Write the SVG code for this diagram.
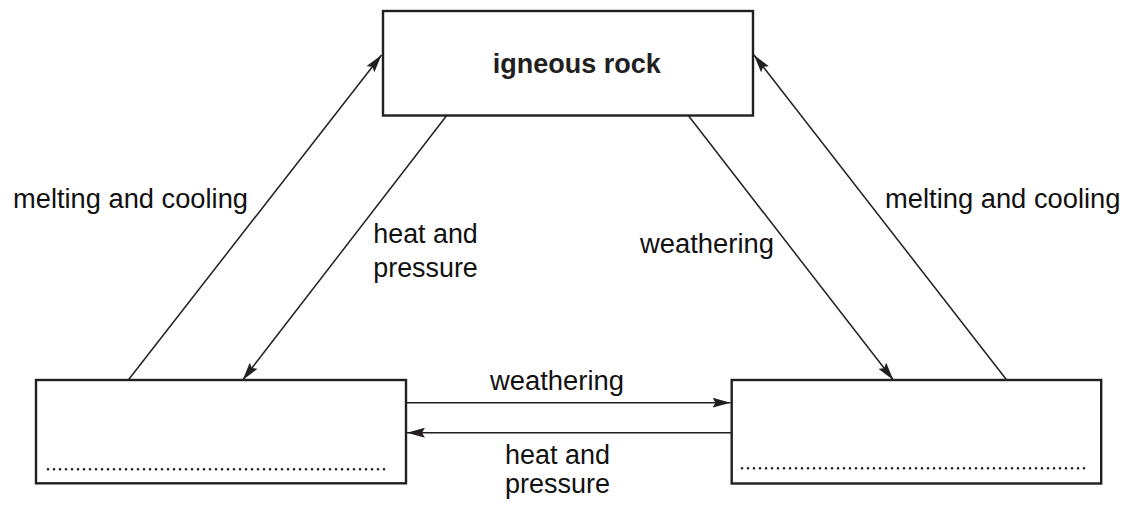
<svg xmlns="http://www.w3.org/2000/svg" width="1132" height="507" viewBox="0 0 1132 507">
  <defs>
    <marker id="ah" markerUnits="userSpaceOnUse" markerWidth="18" markerHeight="10" viewBox="0 0 18 10" refX="18" refY="5" orient="auto">
      <path d="M0,0 L18,5 L0,10 L3,5 z" fill="#231f20"/>
    </marker>
    <style>
      .box { fill: #fff; stroke: #231f20; stroke-width: 2.4; }
      .lbl { font-family: "Liberation Sans", Arial, sans-serif; font-size: 27px; fill: #111; }
      .title { font-family: "Liberation Sans", Arial, sans-serif; font-size: 27px; font-weight: bold; fill: #231f20; }
      .dots { stroke: #231f20; stroke-width: 2.6; stroke-linecap: round; stroke-dasharray: 0 6; fill: none; }
      .conn line { stroke: #231f20; stroke-width: 1.5; }
    </style>
  </defs>
  <rect width="1132" height="507" fill="#fff"/>

  <g id="connectors" class="conn">
    <line x1="128.3" y1="380" x2="381.5" y2="55" marker-end="url(#ah)"/>
    <line x1="446.7" y1="115.5" x2="242.7" y2="380" marker-end="url(#ah)"/>
    <line x1="688.3" y1="115.5" x2="893.3" y2="380" marker-end="url(#ah)"/>
    <line x1="1006.7" y1="380" x2="754" y2="55" marker-end="url(#ah)"/>
    <line x1="406" y1="402.7" x2="730.5" y2="402.7" marker-end="url(#ah)"/>
    <line x1="731.5" y1="432.7" x2="407" y2="432.7" marker-end="url(#ah)"/>
  </g>

  <g id="node-igneous">
    <rect class="box" x="383" y="11" width="370" height="104.5"/>
    <text class="title" x="576.7" y="73.3" text-anchor="middle">igneous rock</text>
  </g>

  <g id="node-bottom-left">
    <rect class="box" x="36" y="380" width="370" height="103.3"/>
    <line class="dots" x1="48" y1="469.3" x2="388" y2="469.3"/>
  </g>

  <g id="node-bottom-right">
    <rect class="box" x="731.7" y="380" width="369.5" height="103.5"/>
    <line class="dots" x1="742" y1="468.3" x2="1086" y2="468.3"/>
  </g>

  <g id="labels">
    <text class="lbl" x="13" y="208.3" textLength="235" lengthAdjust="spacingAndGlyphs">melting and cooling</text>
    <text class="lbl" x="885" y="208.3" textLength="235.5" lengthAdjust="spacingAndGlyphs">melting and cooling</text>
    <text class="lbl" x="373.3" y="243.3" textLength="104.5" lengthAdjust="spacingAndGlyphs">heat and</text>
    <text class="lbl" x="373.3" y="276.7" textLength="104.5" lengthAdjust="spacingAndGlyphs">pressure</text>
    <text class="lbl" x="640" y="253.3" textLength="134" lengthAdjust="spacingAndGlyphs">weathering</text>
    <text class="lbl" x="490" y="390" textLength="134" lengthAdjust="spacingAndGlyphs">weathering</text>
    <text class="lbl" x="505" y="464" textLength="105" lengthAdjust="spacingAndGlyphs">heat and</text>
    <text class="lbl" x="505" y="493.3" textLength="105" lengthAdjust="spacingAndGlyphs">pressure</text>
  </g>
</svg>
